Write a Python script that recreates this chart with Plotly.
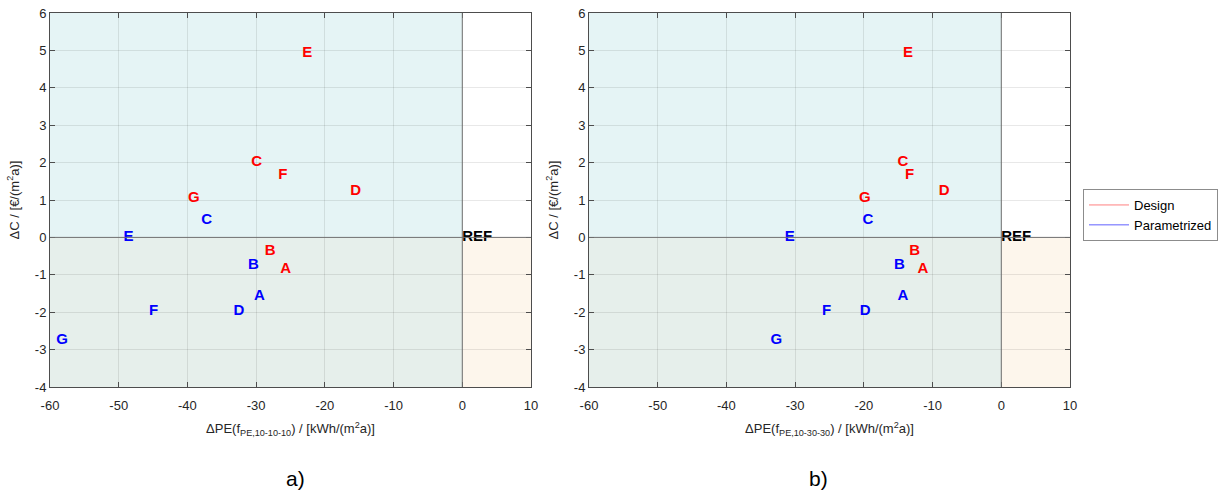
import plotly.graph_objects as go

labels = ["A", "B", "C", "D", "E", "F", "G"]

cost_design = [-0.85, -0.37, 2.0, 1.24, 4.92, 1.66, 1.06]
cost_param = [-1.57, -0.75, 0.45, -1.97, 0.0, -1.97, -2.74]

pe_a_design = [-26.5, -28.75, -30.7, -16.3, -23.3, -26.8, -39.9]
pe_a_param = [-30.3, -31.2, -38.0, -33.3, -49.3, -45.6, -59.1]

pe_b_design = [-12.2, -13.4, -15.1, -9.1, -14.3, -14.0, -20.7]
pe_b_param = [-15.1, -15.6, -20.2, -20.6, -31.5, -26.1, -33.6]

ref_x = [0]
ref_y = [0]

x_ticks = [-60, -50, -40, -30, -20, -10, 0, 10]
x_tick_text = ["-60", "-50", "-40", "-30", "-20", "-10", "0", "10"]
y_ticks = [-4, -3, -2, -1, 0, 1, 2, 3, 4, 5, 6]
y_tick_text = ["-4", "-3", "-2", "-1", "0", "1", "2", "3", "4", "5", "6"]

FONT = "Liberation Sans, Arial, sans-serif"
RED = "#ff0000"
BLUE = "#0000ff"

# pixel layout
L, R, T, B = 50, 1070, 13, 387
W, H = 1221, 495
PW, PH = R - L, B - T

fig = go.Figure()

def add_panel(xa, ya, pe_d, pe_p):
    for xs, ys, txt, col in [(pe_d, cost_design, labels, RED),
                             (pe_p, cost_param, labels, BLUE),
                             (ref_x, ref_y, ["REF"], "black")]:
        fig.add_trace(go.Scatter(x=xs, y=ys, mode="text", text=txt,
                                 textposition="middle right",
                                 marker=dict(size=1),
                                 textfont=dict(family=FONT, size=15, color=col, weight="bold"),
                                 xaxis=xa, yaxis=ya, showlegend=False, hoverinfo="skip"))
    rects = [
        (-60, 0, 0, 6, "#e5f4f5"),
        (-60, 0, -4, 0, "#e6efeb"),
        (0, 10, -4, 0, "#fdf6ec"),
    ]
    for x0, x1, y0, y1, c in rects:
        fig.add_shape(type="rect", xref=xa, yref=ya, x0=x0, x1=x1, y0=y0, y1=y1,
                      fillcolor=c, line=dict(width=0), layer="below")
    fig.add_shape(type="line", xref=xa, yref=ya, x0=0, x1=0, y0=-4, y1=6,
                  line=dict(color="#707070", width=1))
    fig.add_shape(type="line", xref=xa, yref=ya, x0=-60, x1=10, y0=0, y1=0,
                  line=dict(color="#707070", width=1))

add_panel("x", "y", pe_a_design, pe_a_param)
add_panel("x2", "y2", pe_b_design, pe_b_param)

fig.add_trace(go.Scatter(x=[None], y=[None], mode="lines", name="Design",
                         line=dict(color="#ff8080", width=1)))
fig.add_trace(go.Scatter(x=[None], y=[None], mode="lines", name="Parametrized",
                         line=dict(color="#6060ff", width=1)))

axis_common = dict(showgrid=True, gridcolor="rgba(0,0,0,0.09)", gridwidth=1,
                   zeroline=False, showline=True, linecolor="#4d4d4d", linewidth=1,
                   mirror="ticks", ticks="inside", ticklen=5, tickcolor="#4d4d4d",
                   automargin=False,
                   tickfont=dict(family=FONT, size=13, color="#262626"))

ytitle = "\u0394C / [\u20ac/(m<sup>2</sup>a)]"
xa1 = [0, (531 - L) / PW]
xa2 = [(589 - L) / PW, 1]
fig.update_layout(
    width=W, height=H,
    margin=dict(l=L, r=W - R, t=T, b=H - B, autoexpand=False),
    paper_bgcolor="white", plot_bgcolor="white",
    font=dict(family=FONT, size=12, color="#262626"),
    xaxis=dict(domain=xa1, range=[-60, 10], tickvals=x_ticks, ticktext=x_tick_text,
               ticklabelstandoff=6,
               title=dict(text="\u0394PE(f<sub>PE,10-10-10</sub>) / [kWh/(m<sup>2</sup>a)]",
                          font=dict(size=13), standoff=12),
               anchor="y", **axis_common),
    yaxis=dict(domain=[0, 1], range=[-4, 6], tickvals=y_ticks, ticktext=y_tick_text,
               title=dict(text=ytitle, font=dict(size=13), standoff=12),
               anchor="x", **axis_common),
    xaxis2=dict(domain=xa2, range=[-60, 10], tickvals=x_ticks, ticktext=x_tick_text,
                ticklabelstandoff=6,
                title=dict(text="\u0394PE(f<sub>PE,10-30-30</sub>) / [kWh/(m<sup>2</sup>a)]",
                           font=dict(size=13), standoff=12),
                anchor="y2", **axis_common),
    yaxis2=dict(domain=[0, 1], range=[-4, 6], tickvals=y_ticks, ticktext=y_tick_text,
                title=dict(text=ytitle, font=dict(size=13), standoff=12),
                anchor="x2", **axis_common),
    legend=dict(x=(1083 - L) / PW, y=(B - 189) / PH, xanchor="left", yanchor="top",
                bgcolor="white", bordercolor="#8c8c8c", borderwidth=1,
                font=dict(family=FONT, size=13, color="black"),
                itemwidth=40, tracegroupgap=0),
    annotations=[
        dict(text="a)", x=(295 - L) / PW, y=(B - 478) / PH, xref="paper", yref="paper",
             xanchor="center", yanchor="middle",
             showarrow=False, font=dict(family=FONT, size=21, color="black")),
        dict(text="b)", x=(818 - L) / PW, y=(B - 478) / PH, xref="paper", yref="paper",
             xanchor="center", yanchor="middle",
             showarrow=False, font=dict(family=FONT, size=21, color="black")),
    ],
)

fig.write_html("out.html")
